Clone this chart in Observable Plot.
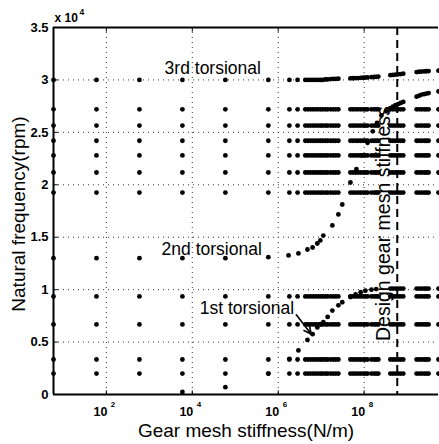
<!DOCTYPE html>
<html><head><meta charset="utf-8">
<script src="https://cdn.jsdelivr.net/npm/d3@7"></script>
<script src="https://cdn.jsdelivr.net/npm/@observablehq/plot@0.6"></script>
<style>html,body{margin:0;padding:0;background:#fff;}</style>
</head><body><div id="chart"></div>
<script>
// ---- data (stiffness as log10 N/m, frequency in 1e4 rpm) ----
const designLog = 8.77;
const columnsLog = [0.77,1.77,2.77,3.77,4.77,5.77,
  6.26,6.45,
  6.63,6.69,6.75,6.81,6.87,6.93,6.99,7.04,7.10,7.15,
  7.22,7.28,7.34,7.40,
  7.68,7.74,7.80,7.86,7.92,7.98,8.03,8.08,
  8.17,8.23,8.28,8.33,
  8.61,8.67,8.73,8.79,8.85,8.91,
  9.22,9.28,9.34,9.40,9.45,9.50,
  9.73];
// 3rd torsional branch (top row), one value per column
const mode3Values = [3.00,3.00,3.00,3.00,3.00,3.00,
  3.00,3.00,
  3.00,3.00,3.00,3.00,3.00,3.00,3.00,3.00,3.005,3.005,
  3.008,3.01,3.01,3.012,
  3.015,3.016,3.017,3.018,3.02,3.021,3.022,3.024,
  3.026,3.028,3.03,3.032,
  3.045,3.048,3.05,3.053,3.056,3.06,
  3.075,3.078,3.08,3.082,3.083,3.084,
  3.088];
// other modes that stay constant over the stiffness range
const flatModes = [2.72, 2.565, 2.42, 2.28, 2.117, 1.926, 0.935, 0.668, 0.334, 0.20];
// 2nd torsional branch
const mode2Log = [0.77,1.77,2.77,3.77,4.77,5.77,6.24,6.47,6.68,6.80,6.91,6.98,7.05,7.26,7.40,7.49,7.68,7.82,7.95,8.08,8.20,8.30,8.40,8.52,8.61,8.67,8.73,8.79,8.85,8.91,9.22,9.28,9.34,9.40,9.45,9.50,9.73];
const mode2Val = [1.30,1.30,1.30,1.30,1.30,1.31,1.326,1.345,1.383,1.402,1.44,1.469,1.516,1.612,1.717,1.812,2.022,2.15,2.28,2.40,2.51,2.59,2.66,2.70,2.73,2.745,2.76,2.77,2.78,2.79,2.84,2.85,2.86,2.865,2.87,2.875,2.89];
// 1st torsional branch
const mode1Log = [3.77,4.77,5.77,6.26,6.47,6.68,6.80,6.91,6.99,7.05,7.15,7.26,7.40,7.49,7.68,7.80,7.92,8.03,8.17,8.28,8.61,8.67,8.73,8.79,8.85,8.91,9.22,9.28,9.34,9.40,9.45,9.50,9.73];
const mode1Val = [0.025,0.07,0.20,0.34,0.42,0.52,0.575,0.64,0.67,0.69,0.74,0.80,0.85,0.88,0.93,0.955,0.975,0.99,1.0,1.005,1.01,1.01,1.01,1.01,1.01,1.01,1.01,1.01,1.01,1.01,1.01,1.01,1.01];

const yTicks = [0, 0.5, 1, 1.5, 2, 2.5, 3, 3.5];
const yTickLabels = ["0", "0.5", "1", "1.5", "2", "2.5", "3", "3.5"];
const xTickExps = [2, 4, 6, 8];
const yMultiplier = ["x 10", "4"];
const xTitle = "Gear mesh stiffness(N/m)";
const yTitle = "Natural frequency(rpm)";
const designLabel = "Design gear mesh stiffness";
const annotations = [
  {text: "3rd torsional", kLog: 3.356, f: 3.061},
  {text: "2nd torsional", kLog: 3.286, f: 1.335},
  {text: "1st torsional", kLog: 4.172, f: 0.772}
];
const arrowDef = {x1Log: 6.42, y1: 0.76, x2Log: 6.77, y2: 0.575};

// ---- build table ----
const P = e => 10 ** e;
const dots = [];
columnsLog.forEach((e, i) => {
  dots.push({k: P(e), f: mode3Values[i]});
  flatModes.forEach(v => dots.push({k: P(e), f: v}));
});
mode2Log.forEach((e, i) => dots.push({k: P(e), f: mode2Val[i]}));
mode1Log.forEach((e, i) => dots.push({k: P(e), f: mode1Val[i]}));

const kMin = P(0.77), kMax = P(9.73), design = P(designLog);
const xTicks = xTickExps.map(P);
const yTickObjs = yTicks.map((v, i) => ({v, label: yTickLabels[i]}));
const gridStyle = {stroke: "#333", strokeWidth: 1, strokeDasharray: "1,4"};
const font = "'Liberation Sans', Arial, Helvetica, sans-serif";

const chart = Plot.plot({
  width: 439, height: 444,
  marginLeft: 53, marginRight: 1, marginTop: 27, marginBottom: 50,
  style: {fontFamily: font, background: "#fff", color: "#000", overflow: "visible"},
  x: {type: "log", domain: [kMin, kMax], axis: null},
  y: {domain: [0, 3.5], axis: null},
  marks: [
    Plot.ruleY(yTicks.filter(v => v > 0 && v < 3.5), gridStyle),
    Plot.ruleX(xTicks, gridStyle),
    Plot.ruleX([design], {stroke: "#000", strokeWidth: 2, strokeDasharray: "8,5"}),
    Plot.ruleY([0, 3.5], {stroke: "#000", strokeWidth: 2}),
    Plot.ruleX([kMin], {stroke: "#000", strokeWidth: 2}),
    Plot.link(yTicks, {x1: () => kMin, x2: () => P(0.87), y1: d => d, y2: d => d, stroke: "#000"}),
    Plot.link(xTicks, {x1: d => d, x2: d => d, y1: () => 0, y2: () => 0.04, stroke: "#000"}),
    Plot.link(xTicks, {x1: d => d, x2: d => d, y1: () => 3.5, y2: () => 3.46, stroke: "#000"}),
    Plot.dot(dots, {x: "k", y: "f", r: 2.4, fill: "#000", stroke: null}),
    // tick labels
    Plot.text(yTickObjs, {x: () => kMin, y: "v", text: "label", textAnchor: "end", dx: -5, fontWeight: "bold", fontSize: 13}),
    Plot.text(xTicks, {x: d => d, y: () => 0, text: () => "10", textAnchor: "end", lineAnchor: "bottom", dx: 1, dy: 21.5, fontWeight: "bold", fontSize: 12.5}),
    Plot.text(xTicks, {x: d => d, y: () => 0, text: (d, i) => String(xTickExps[i]), textAnchor: "start", lineAnchor: "bottom", dx: 4.5, dy: 12, fontWeight: "bold", fontSize: 8}),
    Plot.text([yMultiplier[0]], {frameAnchor: "top-left", text: d => d, textAnchor: "start", lineAnchor: "bottom", dx: 1, dy: -6, fontWeight: "bold", fontSize: 12}),
    Plot.text([yMultiplier[1]], {frameAnchor: "top-left", text: d => d, textAnchor: "start", lineAnchor: "bottom", dx: 26, dy: -13, fontWeight: "bold", fontSize: 8.5}),
    // axis titles
    Plot.text([xTitle], {frameAnchor: "bottom", text: d => d, textAnchor: "middle", lineAnchor: "bottom", dy: 42, fontSize: 19}),
    Plot.text([yTitle], {frameAnchor: "left", text: d => d, textAnchor: "middle", rotate: -90, lineAnchor: "bottom", dx: -29, dy: 3, fontSize: 19}),
    // annotations
    Plot.text([designLabel], {x: () => design, y: () => 1.63, text: d => d, textAnchor: "middle", rotate: -90, lineAnchor: "bottom", dx: -7, fontSize: 19.5}),
    Plot.text(annotations, {x: d => P(d.kLog), y: "f", text: "text", textAnchor: "start", lineAnchor: "bottom", fontSize: 17.5}),
    Plot.arrow([arrowDef], {x1: d => P(d.x1Log), y1: "y1", x2: d => P(d.x2Log), y2: "y2", stroke: "#000", strokeWidth: 1.6, headLength: 9, headAngle: 50})
  ]
});
document.getElementById("chart").appendChild(chart);
</script>
</body></html>
